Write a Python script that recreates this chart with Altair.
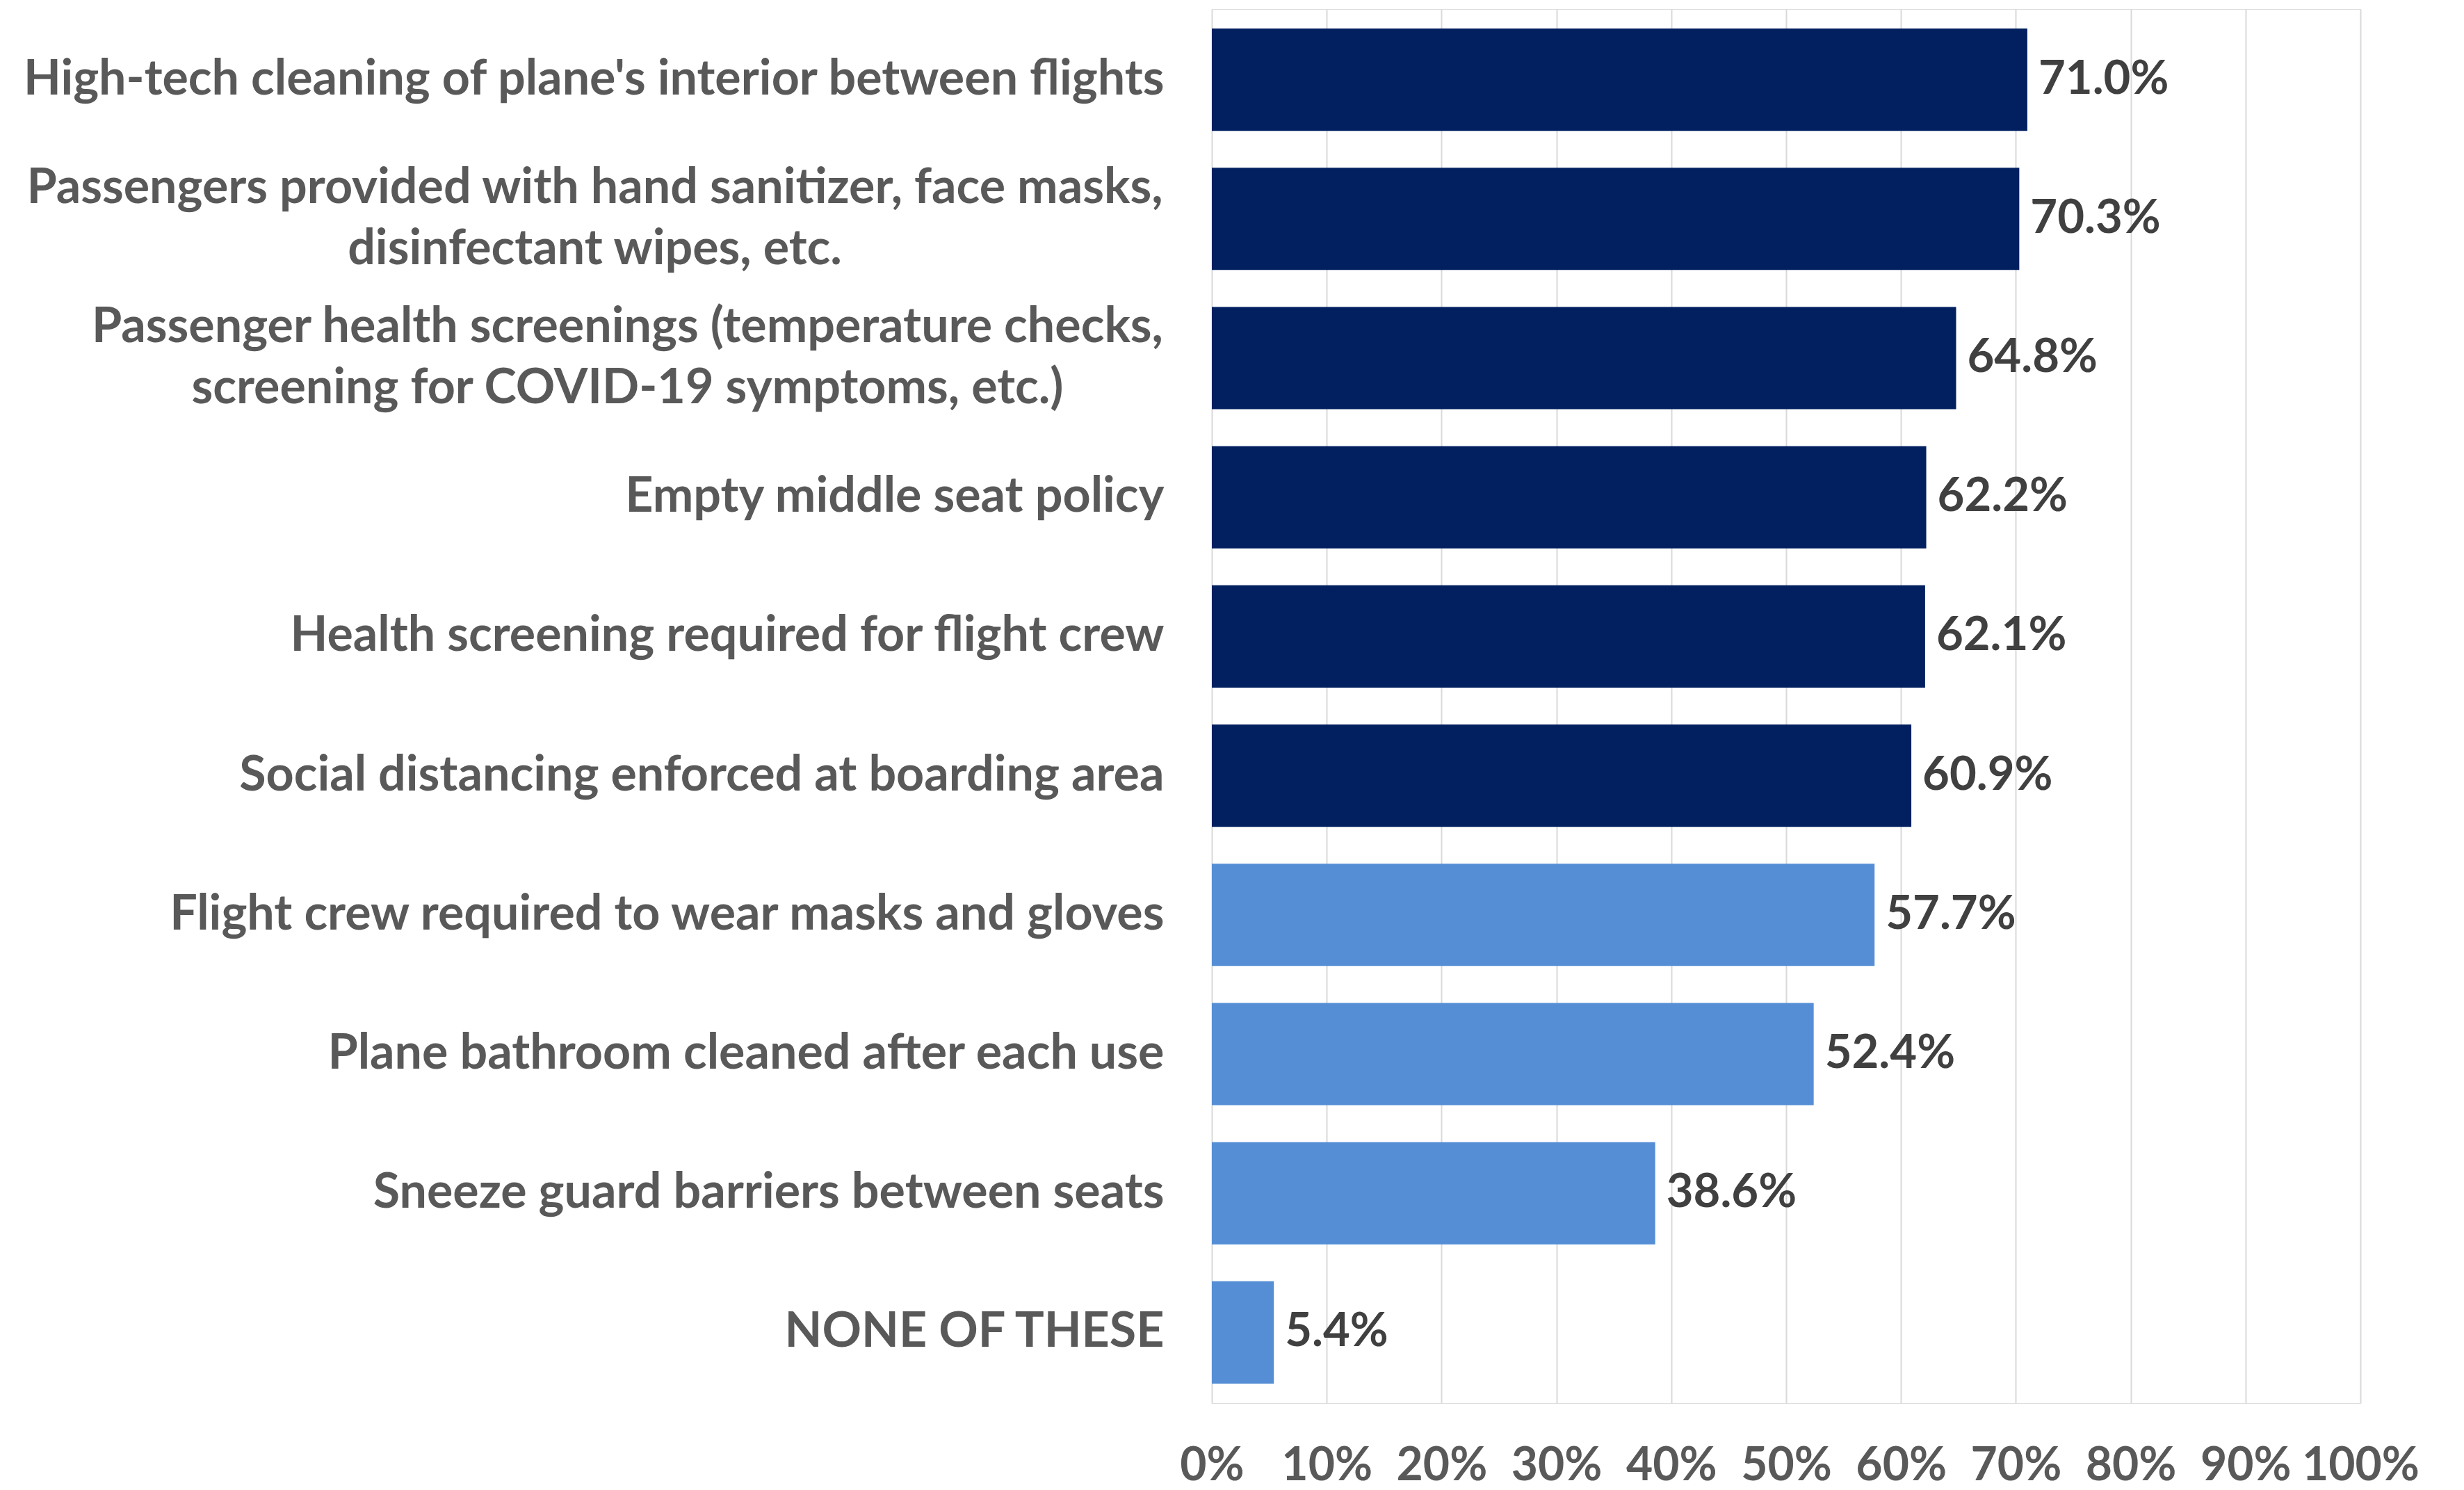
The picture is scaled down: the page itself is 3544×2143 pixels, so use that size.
import altair as alt
import pandas as pd

categories = [
    "High-tech cleaning of plane's interior between flights",
    "Passengers provided with hand sanitizer, face masks,|disinfectant wipes, etc.",
    "Passenger health screenings (temperature checks,|screening for COVID-19 symptoms, etc.)",
    "Empty middle seat policy",
    "Health screening required for flight crew",
    "Social distancing enforced at boarding area",
    "Flight crew required to wear masks and gloves",
    "Plane bathroom cleaned after each use",
    "Sneeze guard barriers between seats",
    "NONE OF THESE",
]
values = [71.0, 70.3, 64.8, 62.2, 62.1, 60.9, 57.7, 52.4, 38.6, 5.4]
groups = ["top", "top", "top", "top", "top", "top", "rest", "rest", "rest", "rest"]
x_ticks = [0, 10, 20, 30, 40, 50, 60, 70, 80, 90, 100]

df = pd.DataFrame({"cat": categories, "val": values, "grp": groups})
df["lbl"] = df["val"].map(lambda v: f"{v:.1f}%")

FONT = "Lato"
FS_CAT = 70
FS_VAL = 67
FS_AX = 66

y_enc = alt.Y(
    "cat:N",
    sort=categories,
    scale=alt.Scale(paddingInner=0.265, paddingOuter=0.14),
    axis=alt.Axis(
        title=None,
        domain=False,
        ticks=False,
        grid=False,
        labelFont=FONT,
        labelFontWeight="bold",
        labelFontSize=FS_CAT,
        labelColor="#595959",
        labelLimit=2000,
        labelLineHeight=88,
        labelExpr="split(datum.label, '|')",
        labelAlign={
            "condition": {"test": "indexof(datum.value, '|') >= 0", "value": "center"},
            "value": "right",
        },
        labelOffset={
            "condition": {"test": "indexof(datum.value, '|') >= 0", "value": -44},
            "value": 0,
        },
        labelPadding={
            "condition": [
                {"test": "indexof(datum.value, 'Passengers provided') >= 0", "value": 888},
                {"test": "indexof(datum.value, 'Passenger health') >= 0", "value": 841},
            ],
            "value": 69,
        },
        minExtent=1730,
        maxExtent=1730,
    ),
)

x_enc = alt.X(
    "val:Q",
    scale=alt.Scale(domain=[0, 100]),
    axis=alt.Axis(
        title=None,
        values=x_ticks,
        domain=False,
        ticks=False,
        grid=True,
        gridColor="#D9D9D9",
        gridWidth=2,
        labelExpr="datum.value + '%'",
        labelFont=FONT,
        labelFontWeight="bold",
        labelFontSize=FS_AX,
        labelColor="#595959",
        labelPadding=58,
        labelFlush=False,
    ),
)

bars = alt.Chart(df).mark_bar().encode(
    x=x_enc,
    y=y_enc,
    color=alt.Color(
        "grp:N",
        scale=alt.Scale(domain=["top", "rest"], range=["#022060", "#558ED5"]),
        legend=None,
    ),
)

text = alt.Chart(df).mark_text(
    align="left",
    baseline="middle",
    dx=16,
    font=FONT,
    fontWeight="bold",
    fontSize=FS_VAL,
    color="#404040",
).encode(
    x=alt.X("val:Q"),
    y=alt.Y("cat:N", sort=categories),
    text="lbl:N",
)

chart = (
    alt.layer(bars, text)
    .properties(width=1652, height=2005)
    .configure_view(stroke=None)
    .configure(background="white")
)

chart.save("out.html", embed_options={"renderer": "svg", "actions": False})
